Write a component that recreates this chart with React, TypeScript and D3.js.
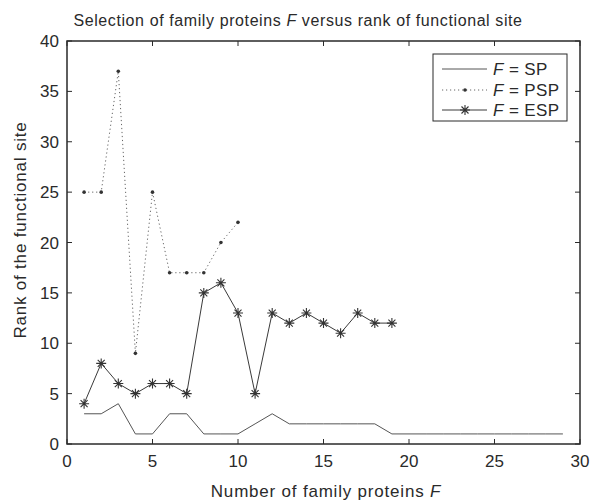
import { useEffect, useRef } from 'react';
import * as d3 from 'd3';

// F = SP, PSP, ESP ranks per number of family proteins
const spX = [1, 2, 3, 4, 5, 6, 7, 8, 9, 10, 11, 12, 13, 14, 15, 16, 17, 18, 19, 20, 21, 22, 23, 24, 25, 26, 27, 28, 29];
const spY = [3, 3, 4, 1, 1, 3, 3, 1, 1, 1, 2, 3, 2, 2, 2, 2, 2, 2, 1, 1, 1, 1, 1, 1, 1, 1, 1, 1, 1];
const pspX = [1, 2, 3, 4, 5, 6, 7, 8, 9, 10];
const pspY = [25, 25, 37, 9, 25, 17, 17, 17, 20, 22];
const espX = [1, 2, 3, 4, 5, 6, 7, 8, 9, 10, 11, 12, 13, 14, 15, 16, 17, 18, 19];
const espY = [4, 8, 6, 5, 6, 6, 5, 15, 16, 13, 5, 13, 12, 13, 12, 11, 13, 12, 12];
const xTicks = [0, 5, 10, 15, 20, 25, 30];
const yTicks = [0, 5, 10, 15, 20, 25, 30, 35, 40];

const W = 592;
const H = 501;
const FONT = '"Liberation Sans", Arial, sans-serif';

export default function App() {
    const svgRef = useRef<SVGSVGElement>(null);

    useEffect(() => {
        const svg = d3.select(svgRef.current);
        svg.selectAll('*').remove();

        const left = 67, right = 580, top = 41, bottom = 444;
        const x = d3.scaleLinear().domain([0, 30]).range([left, right]);
        const y = d3.scaleLinear().domain([0, 40]).range([bottom, top]);
        const ink = '#2a2a2a';
        const tl = 5;

        // ticks (inward, all sides)
        const g = svg.append('g').attr('stroke', ink).attr('stroke-width', 1);
        xTicks.forEach(t => {
            g.append('line').attr('x1', x(t)).attr('x2', x(t)).attr('y1', bottom).attr('y2', bottom - tl);
            g.append('line').attr('x1', x(t)).attr('x2', x(t)).attr('y1', top).attr('y2', top + tl);
        });
        yTicks.forEach(t => {
            g.append('line').attr('x1', left).attr('x2', left + tl).attr('y1', y(t)).attr('y2', y(t));
            g.append('line').attr('x1', right).attr('x2', right - tl).attr('y1', y(t)).attr('y2', y(t));
        });

        svg.append('rect')
            .attr('x', left).attr('y', top)
            .attr('width', right - left).attr('height', bottom - top)
            .attr('fill', 'none').attr('stroke', ink).attr('stroke-width', 1.5);

        const labels = svg.append('g').attr('font-family', FONT).attr('font-size', 17).attr('fill', ink);
        xTicks.forEach(t => {
            labels.append('text').attr('x', x(t)).attr('y', bottom + 23).attr('text-anchor', 'middle').text(t);
        });
        yTicks.forEach(t => {
            labels.append('text').attr('x', left - 8).attr('y', y(t) + 6).attr('text-anchor', 'end').text(t);
        });

        const line = d3.line<[number, number]>().x(d => x(d[0])).y(d => y(d[1]));

        // SP
        svg.append('path')
            .attr('d', line(spX.map((v, i) => [v, spY[i]] as [number, number])))
            .attr('fill', 'none').attr('stroke', '#555').attr('stroke-width', 1);

        // PSP
        const psp = pspX.map((v, i) => [v, pspY[i]] as [number, number]);
        svg.append('path')
            .attr('d', line(psp))
            .attr('fill', 'none').attr('stroke', '#666').attr('stroke-width', 1)
            .attr('stroke-dasharray', '1.2,2.8');
        svg.append('g').selectAll('circle').data(psp).enter().append('circle')
            .attr('cx', d => x(d[0])).attr('cy', d => y(d[1])).attr('r', 1.8).attr('fill', '#333');

        // ESP
        const esp = espX.map((v, i) => [v, espY[i]] as [number, number]);
        svg.append('path')
            .attr('d', line(esp))
            .attr('fill', 'none').attr('stroke', '#3a3a3a').attr('stroke-width', 1);
        const star = (cx: number, cy: number, sel: any) => {
            const r = 5;
            const s = r * 0.7;
            sel.append('path')
                .attr('d', `M${cx - r},${cy}L${cx + r},${cy}M${cx},${cy - r}L${cx},${cy + r}M${cx - s},${cy - s}L${cx + s},${cy + s}M${cx - s},${cy + s}L${cx + s},${cy - s}`)
                .attr('stroke', '#333').attr('stroke-width', 1.1).attr('fill', 'none');
        };
        const stars = svg.append('g');
        esp.forEach(d => star(x(d[0]), y(d[1]), stars));

        // legend
        const lg = svg.append('g');
        lg.append('rect').attr('x', 433).attr('y', 54).attr('width', 134).attr('height', 67)
            .attr('fill', '#fff').attr('stroke', ink).attr('stroke-width', 1);
        const rows = [69, 90, 110];
        const names = ['SP', 'PSP', 'ESP'];
        lg.append('line').attr('x1', 442).attr('x2', 487).attr('y1', rows[0]).attr('y2', rows[0])
            .attr('stroke', '#555');
        lg.append('line').attr('x1', 442).attr('x2', 487).attr('y1', rows[1]).attr('y2', rows[1])
            .attr('stroke', '#666').attr('stroke-dasharray', '1.2,2.8');
        lg.append('circle').attr('cx', 465).attr('cy', rows[1]).attr('r', 1.8).attr('fill', '#333');
        lg.append('line').attr('x1', 442).attr('x2', 487).attr('y1', rows[2]).attr('y2', rows[2])
            .attr('stroke', '#3a3a3a');
        star(465, rows[2], lg);
        names.forEach((n, i) => {
            const t = lg.append('text').attr('x', 493).attr('y', rows[i] + 6)
                .attr('font-family', FONT).attr('font-size', 17).attr('letter-spacing', 0.4).attr('fill', ink);
            t.append('tspan').attr('font-style', 'italic').text('F');
            t.append('tspan').text(` = ${n}`);
        });

        // title and axis labels
        const title = svg.append('text').attr('x', 298).attr('y', 26).attr('text-anchor', 'middle')
            .attr('font-family', FONT).attr('font-size', 16).attr('letter-spacing', 0.6).attr('fill', ink);
        title.append('tspan').text('Selection of family proteins ');
        title.append('tspan').attr('font-style', 'italic').text('F');
        title.append('tspan').text(' versus rank of functional site');

        const xl = svg.append('text').attr('x', 326).attr('y', 497).attr('text-anchor', 'middle')
            .attr('font-family', FONT).attr('font-size', 17).attr('letter-spacing', 0.8).attr('fill', ink);
        xl.append('tspan').text('Number of family proteins ');
        xl.append('tspan').attr('font-style', 'italic').text('F');

        svg.append('text').attr('transform', `translate(26,230) rotate(-90)`)
            .attr('text-anchor', 'middle').attr('font-family', FONT).attr('font-size', 17)
            .attr('letter-spacing', 0.8).attr('fill', ink)
            .text('Rank of the functional site');
    }, []);

    return (
        <div style={{ position: 'fixed', left: 0, top: 0, width: W, height: H, background: '#fff' }}>
            <svg ref={svgRef} width={W} height={H} style={{ display: 'block' }} />
        </div>
    );
}
